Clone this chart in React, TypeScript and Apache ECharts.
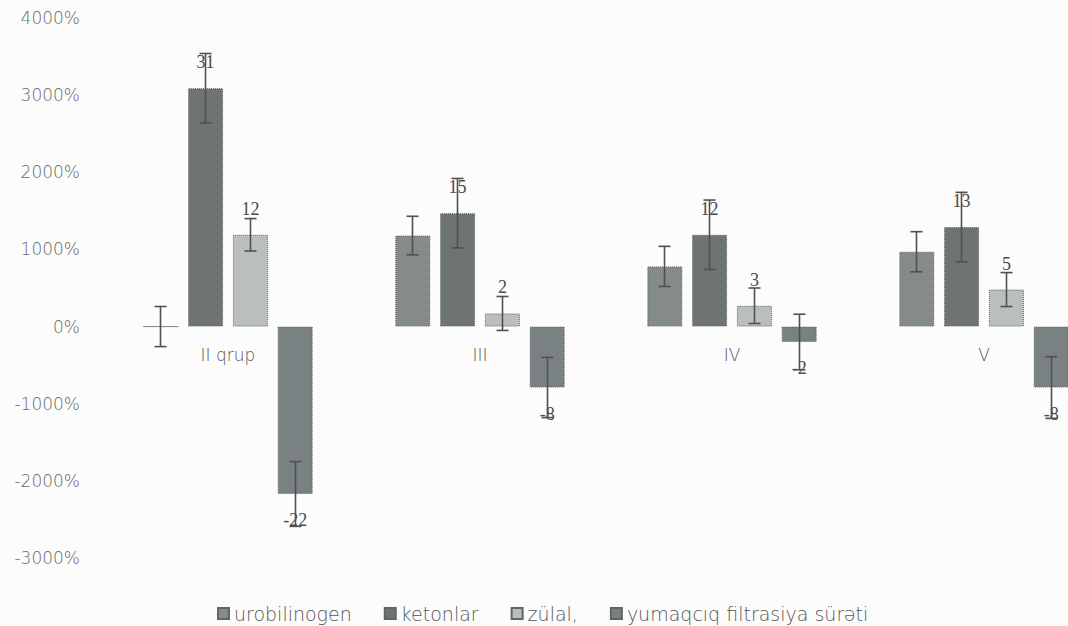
import React, { useEffect, useRef } from "react";
import * as echarts from "echarts";

const categories = ["II qrup", "III", "IV", "V"];
const seriesNames = ["urobilinogen", "ketonlar", "zülal,", "yumaqcıq filtrasiya sürəti"];

const urobilinogen = [0, 11.8, 7.8, 9.7];
const urobilinogenErr = [2.6, 2.5, 2.6, 2.6];
const ketonlar = [30.9, 14.7, 11.9, 12.9];
const ketonlarErr = [4.5, 4.5, 4.5, 4.5];
const zulal = [11.9, 1.7, 2.7, 4.8];
const zulalErr = [2.1, 2.2, 2.3, 2.2];
const yumaqciq = [-21.7, -7.9, -2.0, -7.9];
const yumaqciqErr = [4.2, 3.9, 3.6, 4.0];

const showLabels = [false, true, true, true];
const colors = ["#858a8b", "#6e7374", "#b9bfbf", "#7a8182"];

const values = [urobilinogen, ketonlar, zulal, yumaqciq];
const errors = [urobilinogenErr, ketonlarErr, zulalErr, yumaqciqErr];

const FONT = "DejaVu Sans";

export default function App() {
  const ref = useRef<HTMLDivElement>(null);
  useEffect(() => {
    if (!ref.current) return;
    const chart = echarts.init(ref.current, null, { renderer: "svg" });

    const barSeries = values.map((vals, si) => ({
      name: seriesNames[si],
      type: "bar",
      barWidth: 35,
      barGap: "28%",
      itemStyle: { color: colors[si], borderColor: "#5f6566", borderWidth: 1, borderType: "dotted" },
      data: vals.map((v) => ({
        value: v,
        label: {
          show: showLabels[si],
          position: v < 0 ? "bottom" : "top",
          distance: 17,
          formatter: () => String(Math.round(v)),
          fontFamily: "Liberation Serif",
          fontSize: 18,
          color: "#4a4a4a",
        },
      })),
    }));

    const errData: number[][] = [];
    values.forEach((vals, si) => {
      vals.forEach((v, ci) => {
        errData.push([ci, si, v, errors[si][ci]]);
      });
    });

    const errSeries = {
      type: "custom",
      name: "err",
      z: 5,
      encode: { x: 0, y: 2 },
      data: errData,
      renderItem: (params: any, api: any) => {
        const c = api.value(0);
        const s = api.value(1);
        const v = api.value(2);
        const e = api.value(3);
        const top = api.coord([c, v + e]);
        const bot = api.coord([c, v - e]);
        const x = top[0] + (s - 1.5) * 45;
        const half = 6;
        const style = { stroke: "#505050", lineWidth: 1.6 };
        return {
          type: "group",
          children: [
            { type: "line", shape: { x1: x, y1: top[1], x2: x, y2: bot[1] }, style },
            { type: "line", shape: { x1: x - half, y1: top[1], x2: x + half, y2: top[1] }, style },
            { type: "line", shape: { x1: x - half, y1: bot[1], x2: x + half, y2: bot[1] }, style },
          ],
        };
      },
    };

    chart.setOption({
      animation: false,
      backgroundColor: "#fcfcfc",
      grid: { left: 102, top: 18, right: 2, height: 540 },
      legend: {
        data: seriesNames,
        top: 599,
        left: 212,
        icon: "rect",
        itemWidth: 11,
        itemHeight: 11,
        itemGap: 32,
        textStyle: { fontFamily: FONT, fontSize: 19, fontWeight: 300, color: "#555" },
      },
      xAxis: {
        type: "category",
        data: categories,
        position: "bottom",
        offset: -232,
        axisLine: { show: false, onZero: false },
        axisTick: { show: false },
        axisLabel: { margin: 20, fontFamily: FONT, fontSize: 17, fontWeight: 300, color: "#555" },
      },
      yAxis: {
        type: "value",
        min: -30,
        max: 40,
        interval: 10,
        splitLine: { show: false },
        axisLine: { show: false },
        axisTick: { show: false },
        axisLabel: {
          margin: 22,
          fontFamily: FONT,
          fontSize: 17,
          fontWeight: 300,
          color: "#6a6a6a",
          formatter: (v: number) => `${Math.round(v * 100)}%`,
        },
      },
      series: [...barSeries, errSeries],
    });
    return () => chart.dispose();
  }, []);
  return (
    <div
      style={{
        position: "absolute",
        left: 0,
        top: 0,
        width: 1068,
        height: 626,
        overflow: "hidden",
        background: "#fcfcfc",
      }}
    >
      <div ref={ref} style={{ width: 1112, height: 626 }} />
    </div>
  );
}
